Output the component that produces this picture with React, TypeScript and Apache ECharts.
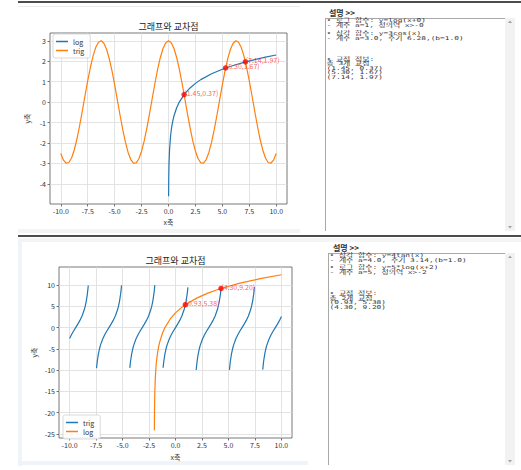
import React, { useEffect, useRef } from 'react';
import * as echarts from 'echarts';

// ---------- data ----------
const chartTitle = '그래프와 교차점';
const xTicks = [-10, -7.5, -5, -2.5, 0, 2.5, 5, 7.5, 10];
const topYTicks = [-4, -3, -2, -1, 0, 1, 2, 3];
const botYTicks = [-25, -20, -15, -10, -5, 0, 5, 10];

// top chart: trig y=3cos(x)
const trigTopX = [
  -10, -9.75, -9.5, -9.25, -9, -8.75, -8.5, -8.25, -8, -7.75, -7.5, -7.25, -7, -6.75, -6.5, -6.25, -6, -5.75, -5.5, -5.25,
  -5, -4.75, -4.5, -4.25, -4, -3.75, -3.5, -3.25, -3, -2.75, -2.5, -2.25, -2, -1.75, -1.5, -1.25, -1, -0.75, -0.5, -0.25,
  0, 0.25, 0.5, 0.75, 1, 1.25, 1.5, 1.75, 2, 2.25, 2.5, 2.75, 3, 3.25, 3.5, 3.75, 4, 4.25, 4.5, 4.75,
  5, 5.25, 5.5, 5.75, 6, 6.25, 6.5, 6.75, 7, 7.25, 7.5, 7.75, 8, 8.25, 8.5, 8.75, 9, 9.25, 9.5, 9.75, 10,
];
const trigTopY = [
  -2.517, -2.843, -2.992, -2.954, -2.733, -2.343, -1.806, -1.157, -0.436, 0.311, 1.04, 1.704, 2.262, 2.679, 2.93, 2.998, 2.881, 2.584, 2.126, 1.536,
  0.851, 0.113, -0.632, -1.338, -1.961, -2.462, -2.809, -2.982, -2.97, -2.773, -2.403, -1.885, -1.248, -0.535, 0.212, 0.946, 1.621, 2.195, 2.633, 2.907,
  3.0, 2.907, 2.633, 2.195, 1.621, 0.946, 0.212, -0.535, -1.248, -1.885, -2.403, -2.773, -2.97, -2.982, -2.809, -2.462, -1.961, -1.338, -0.632, 0.113,
  0.851, 1.536, 2.126, 2.584, 2.881, 2.998, 2.93, 2.679, 2.262, 1.704, 1.04, 0.311, -0.436, -1.157, -1.806, -2.343, -2.733, -2.954, -2.992, -2.843, -2.517,
];
// top chart: log y=log(x)
const logTopX = [0.01, 0.02, 0.03, 0.05, 0.1, 0.2, 0.3, 0.4, 0.5, 0.75, 1, 1.5, 2, 2.5, 3, 4, 5, 6, 7, 8, 9, 10];
const logTopY = [-4.605, -3.912, -3.507, -2.996, -2.303, -1.609, -1.204, -0.916, -0.693, -0.288, 0, 0.405, 0.693, 0.916, 1.099, 1.386, 1.609, 1.792, 1.946, 2.079, 2.197, 2.303];
const topPtsX = [1.45, 5.3, 7.14];
const topPtsY = [0.37, 1.67, 1.97];

// bottom chart: trig y=4tan(x) (branches separated by null)
const tanBotX = [
  -10, -9.825, -9.625, -9.425, -9.225, -9.025, -8.825, -8.625, -8.525, -8.425, -8.325, -8.275, -8.238, null,
  -7.457, -7.433, -7.383, -7.283, -7.183, -7.083, -6.883, -6.683, -6.483, -6.283, -6.083, -5.883, -5.683, -5.483, -5.383, -5.283, -5.183, -5.133, -5.095, null,
  -4.314, -4.292, -4.242, -4.142, -4.042, -3.942, -3.742, -3.542, -3.342, -3.142, -2.942, -2.742, -2.542, -2.342, -2.242, -2.142, -2.042, -1.992, -1.952, null,
  -1.171, -1.15, -1.1, -1.0, -0.9, -0.8, -0.6, -0.4, -0.2, 0, 0.2, 0.4, 0.6, 0.8, 0.9, 1.0, 1.1, 1.15, 1.171, null,
  1.952, 1.992, 2.042, 2.142, 2.242, 2.342, 2.542, 2.742, 2.942, 3.142, 3.342, 3.542, 3.742, 3.942, 4.042, 4.142, 4.242, 4.292, 4.314, null,
  5.095, 5.133, 5.183, 5.283, 5.383, 5.483, 5.683, 5.883, 6.083, 6.283, 6.483, 6.683, 6.883, 7.083, 7.183, 7.283, 7.383, 7.433, 7.457, null,
  8.238, 8.275, 8.325, 8.425, 8.525, 8.625, 8.825, 9.025, 9.225, 9.425, 9.625, 9.825, 10,
];
const tanBotY = [
  -2.593, -1.691, -0.811, 0, 0.811, 1.691, 2.737, 4.119, 5.041, 6.23, 7.859, 8.938, 9.89, null,
  -9.54, -8.938, -7.859, -6.23, -5.041, -4.119, -2.737, -1.691, -0.811, 0, 0.811, 1.691, 2.737, 4.119, 5.041, 6.23, 7.859, 8.938, 9.94, null,
  -9.49, -8.938, -7.859, -6.23, -5.041, -4.119, -2.737, -1.691, -0.811, 0, 0.811, 1.691, 2.737, 4.119, 5.041, 6.23, 7.859, 8.938, 9.98, null,
  -9.45, -8.938, -7.859, -6.23, -5.041, -4.119, -2.737, -1.691, -0.811, 0, 0.811, 1.691, 2.737, 4.119, 5.041, 6.23, 7.859, 8.938, 9.45, null,
  -9.98, -8.938, -7.859, -6.23, -5.041, -4.119, -2.737, -1.691, -0.811, 0, 0.811, 1.691, 2.737, 4.119, 5.041, 6.23, 7.859, 8.938, 9.49, null,
  -9.94, -8.938, -7.859, -6.23, -5.041, -4.119, -2.737, -1.691, -0.811, 0, 0.811, 1.691, 2.737, 4.119, 5.041, 6.23, 7.859, 8.938, 9.54, null,
  -9.89, -8.938, -7.859, -6.23, -5.041, -4.119, -2.737, -1.691, -0.811, 0, 0.811, 1.691, 2.593,
];
// bottom chart: log y=5*log(x+2)
const logBotX = [-1.992, -1.99, -1.985, -1.98, -1.97, -1.95, -1.925, -1.9, -1.85, -1.8, -1.7, -1.6, -1.5, -1.25, -1, -0.5, 0, 0.5, 1, 2, 3, 4, 6, 8, 10];
const logBotY = [-24.14, -23.03, -21.0, -19.56, -17.53, -14.98, -12.95, -11.51, -9.49, -8.05, -6.02, -4.58, -3.47, -1.44, 0, 2.03, 3.47, 4.58, 5.49, 6.93, 8.05, 8.96, 10.4, 11.51, 12.42];
const botPtsX = [0.93, 4.3];
const botPtsY = [5.38, 9.2];

const topLines = ['• 로그 함수: y=log(x+0)', '- 계수 a=1, 정의역 x>-0', '• 삼각 함수: y=3cos(x)', '- 계수 a=3.0, 주기 6.28,(b=1.0)', '• 교점 정보:', '총 3개 교점', '(1.45, 0.37)', '(5.30, 1.67)', '(7.14, 1.97)'];
const botLines = ['• 삼각 함수: y=4tan(x)', '- 계수 a=4.0, 주기 3.14,(b=1.0)', '• 로그 함수: y=5*log(x+2)', '- 계수 a=5, 정의역 x>-2', '• 교점 정보:', '총 2개 교점', '(0.93, 5.38)', '(4.30, 9.20)'];

// ---------- helpers ----------
const pairs = (xs: (number | null)[], ys: (number | null)[]) =>
  xs.map((x, i) => (x === null || ys[i] === null ? ['-', '-'] : [x, ys[i]]));

const BLUE = '#1f77b4';
const ORANGE = '#ff7f0e';
const SPINE = '#555';
const GRIDC = '#dcdcdc';
const FONT = "'Noto Sans CJK KR', 'Noto Sans', sans-serif";
const MONO = "'DejaVu Sans Mono', 'Noto Sans CJK KR', monospace";

function xAxisFor(gridIndex: number, nameGap: number) {
  return {
    type: 'value', gridIndex, min: -11, max: 11,
    name: 'x축', nameLocation: 'middle', nameGap,
    nameTextStyle: { fontSize: 7, color: '#333', fontFamily: FONT },
    axisLine: { show: false, onZero: false },
    axisTick: { show: true, length: 2.5, customValues: xTicks, lineStyle: { color: SPINE, width: 0.8 } },
    axisLabel: { customValues: xTicks, fontSize: 7, color: '#333', margin: 3.5, fontFamily: FONT, formatter: (v: number) => v.toFixed(1) },
    splitLine: { show: true, lineStyle: { color: GRIDC, width: 0.8 } },
  };
}
function yAxisFor(gridIndex: number, min: number, max: number, ticks: number[], nameGap: number) {
  return {
    type: 'value', gridIndex, min, max,
    name: 'y축', nameLocation: 'middle', nameGap, nameRotate: 90,
    nameTextStyle: { fontSize: 7, color: '#333', fontFamily: FONT },
    axisLine: { show: false, onZero: false },
    axisTick: { show: true, length: 2.5, customValues: ticks, lineStyle: { color: SPINE, width: 0.8 } },
    axisLabel: { customValues: ticks, fontSize: 7, color: '#333', margin: 4, fontFamily: FONT, formatter: (v: number) => String(Math.round(v)) },
    splitLine: { show: true, lineStyle: { color: GRIDC, width: 0.8 } },
  };
}
function ptLabel() {
  return {
    show: true, position: [3, 1], align: 'left', verticalAlign: 'middle',
    fontSize: 7, color: '#f23a3a', fontFamily: FONT,
    formatter: (p: any) => `(${p.value[0].toFixed(2)},${p.value[1].toFixed(2)})`,
  };
}
function legendFor(names: string[], left: number, top: number) {
  return {
    data: names, orient: 'vertical', left, top, icon: 'rect', itemWidth: 12, itemHeight: 1.5, itemGap: 2,
    padding: [4, 6, 4, 3], selectedMode: false,
    textStyle: { fontSize: 7, color: '#333', fontFamily: FONT },
    backgroundColor: 'rgba(255,255,255,0.85)', borderColor: '#d0d0d0', borderWidth: 0.8, borderRadius: 2,
    formatter: (n: string) => n.replace('2', ''),
  };
}

function panel(lines: string[], ys: number[], textX: number, head: [number, number], box: { x: number; y: number; b: number }) {
  const els: any[] = [];
  els.push({ type: 'text', x: head[0], y: head[1], style: { text: '설명 >>', fontSize: 8, fontWeight: 'bold', fill: '#333', fontFamily: FONT, verticalAlign: 'middle' } });
  els.push({ type: 'rect', shape: { x: 505, y: box.y, width: 10, height: box.b - box.y }, style: { fill: '#f2f2f2' } });
  els.push({ type: 'line', shape: { x1: box.x, y1: box.y + 0.5, x2: 505, y2: box.y + 0.5 }, style: { stroke: '#a8a8a8', lineWidth: 1 } });
  els.push({ type: 'line', shape: { x1: box.x + 0.5, y1: box.y, x2: box.x + 0.5, y2: box.b }, style: { stroke: '#a8a8a8', lineWidth: 1 } });
  els.push({ type: 'polygon', shape: { points: [[508, box.y + 5], [512, box.y + 5], [510, box.y + 2.5]] }, style: { fill: '#a0a0a0' } });
  els.push({ type: 'polygon', shape: { points: [[508, box.b - 5], [512, box.b - 5], [510, box.b - 2.5]] }, style: { fill: '#a0a0a0' } });
  lines.forEach((t, i) => {
    els.push({ type: 'text', x: textX, y: ys[i], scaleX: 1.12, scaleY: 0.75, style: { text: t, fontSize: 7, fill: '#333', fontFamily: MONO, verticalAlign: 'middle', align: 'left' } });
  });
  return els;
}

export default function App() {
  const ref = useRef<HTMLDivElement>(null);
  useEffect(() => {
    if (!ref.current) return;
    const chart = echarts.init(ref.current, null, { renderer: 'svg' });
    const topYs = [20.7, 25.2, 33.5, 38, 59, 63.3, 68, 72.5, 77];
    const botYs = [255.7, 260, 267.7, 272, 293.5, 298, 302.5, 307];
    const graphic: any[] = [
      { type: 'rect', z: -10, shape: { x: 18, y: 229, width: 282, height: 4 }, style: { fill: '#f4f4f4' } },
      { type: 'line', shape: { x1: 18, y1: 6.5, x2: 300, y2: 6.5 }, style: { stroke: '#ececec', lineWidth: 1 } },
      { type: 'rect', z: -10, shape: { x: 18, y: 238, width: 503, height: 4 }, style: { fill: '#f4f4f4' } },
      { type: 'rect', z: -10, shape: { x: 18, y: 240, width: 4, height: 226 }, style: { fill: '#eef4fa' } },
      { type: 'rect', z: -10, shape: { x: 18, y: 461, width: 290, height: 4 }, style: { fill: '#eef4fa' } },
      { type: 'line', shape: { x1: 18, y1: 2, x2: 521, y2: 2 }, style: { stroke: '#111', lineWidth: 1.6 } },
      { type: 'line', shape: { x1: 18, y1: 236, x2: 521, y2: 236 }, style: { stroke: '#111', lineWidth: 1.6 } },
      { type: 'text', x: 168.5, y: 26, style: { text: chartTitle, fontSize: 9, fill: '#222', fontFamily: FONT, align: 'center', verticalAlign: 'middle' } },
      { type: 'text', x: 175.5, y: 260, style: { text: chartTitle, fontSize: 9, fill: '#222', fontFamily: FONT, align: 'center', verticalAlign: 'middle' } },
      ...panel(topLines, topYs, 326.5, [329, 12.3], { x: 325, y: 18, b: 231 }),
      ...panel(botLines, botYs, 329.5, [333, 247.3], { x: 328, y: 253, b: 465 }),
    ];
    const option: any = {
      animation: false,
      backgroundColor: '#fff',
      textStyle: { fontFamily: FONT },
      grid: [
        { left: 50, top: 33, width: 237, height: 171, show: true, borderColor: SPINE, borderWidth: 0.8, backgroundColor: 'transparent' },
        { left: 59, top: 267, width: 233, height: 171, show: true, borderColor: SPINE, borderWidth: 0.8, backgroundColor: 'transparent' },
      ],
      xAxis: [xAxisFor(0, 14), xAxisFor(1, 15)],
      yAxis: [yAxisFor(0, -4.985, 3.38, topYTicks, 20), yAxisFor(1, -25.97, 14.25, botYTicks, 21.5)],
      legend: [legendFor(['log', 'trig'], 53, 34), legendFor(['trig2', 'log2'], 63, 415)],
      series: [
        { name: 'log', type: 'line', xAxisIndex: 0, yAxisIndex: 0, data: pairs(logTopX, logTopY), showSymbol: false, color: BLUE, lineStyle: { width: 1.2, color: BLUE } },
        { name: 'trig', type: 'line', xAxisIndex: 0, yAxisIndex: 0, data: pairs(trigTopX, trigTopY), showSymbol: false, color: ORANGE, lineStyle: { width: 1.2, color: ORANGE } },
        { name: 'pts1', type: 'scatter', xAxisIndex: 0, yAxisIndex: 0, data: pairs(topPtsX, topPtsY), symbolSize: 5.5, itemStyle: { color: '#ff0000' }, label: ptLabel(), z: 5 },
        { name: 'trig2', type: 'line', xAxisIndex: 1, yAxisIndex: 1, data: pairs(tanBotX, tanBotY), showSymbol: false, connectNulls: false, color: BLUE, lineStyle: { width: 1.2, color: BLUE } },
        { name: 'log2', type: 'line', xAxisIndex: 1, yAxisIndex: 1, data: pairs(logBotX, logBotY), showSymbol: false, color: ORANGE, lineStyle: { width: 1.2, color: ORANGE } },
        { name: 'pts2', type: 'scatter', xAxisIndex: 1, yAxisIndex: 1, data: pairs(botPtsX, botPtsY), symbolSize: 5.5, itemStyle: { color: '#ff0000' }, label: ptLabel(), z: 5 },
      ],
      graphic,
    };
    chart.setOption(option);
    return () => chart.dispose();
  }, []);
  return <div ref={ref} style={{ width: 521, height: 470, position: 'fixed', left: 0, top: 0 }} />;
}
